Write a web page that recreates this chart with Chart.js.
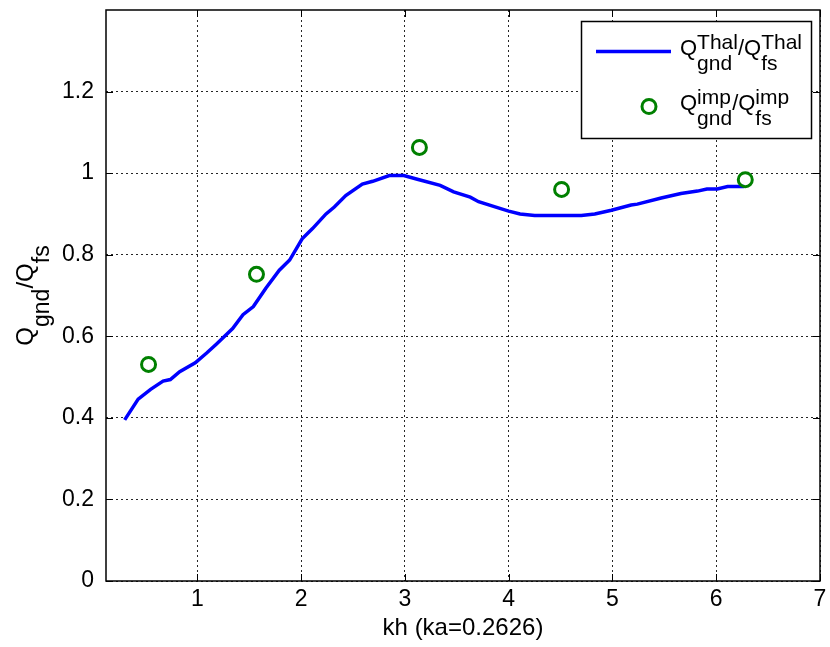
<!DOCTYPE html>
<html>
<head>
<meta charset="utf-8">
<script src="https://cdn.jsdelivr.net/npm/chart.js@4/dist/chart.umd.min.js"></script>
<style>
html, body { margin: 0; padding: 0; background: #fff; }
#wrap { width: 830px; height: 647px; position: relative; }
</style>
</head>
<body>
<div id="wrap"><canvas id="chart"></canvas></div>
<script>
const xTicks = [1, 2, 3, 4, 5, 6, 7];
const yTicks = [0, 0.2, 0.4, 0.6, 0.8, 1, 1.2];

// Q_gnd^Thal / Q_fs^Thal curve
const khThal = [0.30, 0.43, 0.55, 0.67, 0.74, 0.83, 0.98, 1.09, 1.18, 1.34, 1.44, 1.54, 1.66, 1.79, 1.89,
  2.01, 2.11, 2.24, 2.32, 2.43, 2.59, 2.69, 2.85, 2.99, 3.12, 3.34, 3.47, 3.63, 3.71, 3.90, 4.00, 4.11,
  4.25, 4.70, 4.83, 4.99, 5.18, 5.24, 5.47, 5.66, 5.82, 5.91, 6.01, 6.11, 6.27];
const qThal = [0.395, 0.446, 0.470, 0.490, 0.494, 0.513, 0.535, 0.559, 0.580, 0.619, 0.653, 0.673, 0.718, 0.762, 0.787,
  0.839, 0.864, 0.900, 0.917, 0.945, 0.973, 0.980, 0.994, 0.994, 0.985, 0.970, 0.954, 0.941, 0.930, 0.915, 0.907, 0.900,
  0.896, 0.896, 0.900, 0.909, 0.922, 0.924, 0.939, 0.950, 0.956, 0.961, 0.961, 0.967, 0.967];

// Q_gnd^imp / Q_fs^imp points
const khImp = [0.53, 1.57, 3.14, 4.51, 6.28];
const qImp = [0.531, 0.752, 1.063, 0.960, 0.984];

const FONT = '"Liberation Sans", Arial, Helvetica, sans-serif';

// text pieces: {t} is normal, {sup, sub} are stacked scripts
const legendText1 = [{t: 'Q'}, {sup: 'Thal', sub: 'gnd'}, {t: '/'}, {t: 'Q'}, {sup: 'Thal', sub: 'fs'}];
const legendText2 = [{t: 'Q'}, {sup: 'imp', sub: 'gnd'}, {t: '/'}, {t: 'Q'}, {sup: 'imp', sub: 'fs'}];
const yTitle = [{t: 'Q'}, {sub: 'gnd'}, {t: '/'}, {t: 'Q'}, {sub: 'fs'}];
const xTitle = 'kh (ka=0.2626)';

function richWidth(ctx, parts, m, s) {
    let w = 0;
    parts.forEach(p => {
        if (p.t) {
            ctx.font = m + 'px ' + FONT;
            w += ctx.measureText(p.t).width;
        } else {
            ctx.font = s + 'px ' + FONT;
            w += Math.max(ctx.measureText(p.sup || '').width, ctx.measureText(p.sub || '').width);
        }
    });
    return w;
}

function drawRich(ctx, parts, x, y, m, s, up, down) {
    ctx.textAlign = 'left';
    ctx.textBaseline = 'alphabetic';
    ctx.fillStyle = '#000';
    parts.forEach(p => {
        if (p.t) {
            ctx.font = m + 'px ' + FONT;
            ctx.fillText(p.t, x, y);
            x += ctx.measureText(p.t).width;
        } else {
            ctx.font = s + 'px ' + FONT;
            if (p.sup) ctx.fillText(p.sup, x, y - up);
            if (p.sub) ctx.fillText(p.sub, x, y + down);
            x += Math.max(ctx.measureText(p.sup || '').width, ctx.measureText(p.sub || '').width);
        }
    });
}

const boxPlugin = {
    id: 'box',
    afterDatasetsDraw(chart) {
        const ctx = chart.ctx;
        const a = chart.chartArea;
        const xs = chart.scales.x, ys = chart.scales.y;
        ctx.save();
        ctx.strokeStyle = '#000';
        ctx.lineWidth = 1.5;
        ctx.setLineDash([]);
        ctx.strokeRect(a.left, a.top, a.right - a.left, a.bottom - a.top);
        ctx.lineWidth = 1;
        ctx.beginPath();
        xTicks.forEach(v => {
            const px = Math.round(xs.getPixelForValue(v)) + 0.5;
            ctx.moveTo(px, a.bottom); ctx.lineTo(px, a.bottom - 7);
            ctx.moveTo(px, a.top); ctx.lineTo(px, a.top + 7);
        });
        yTicks.forEach(v => {
            const py = Math.round(ys.getPixelForValue(v)) + 0.5;
            ctx.moveTo(a.left, py); ctx.lineTo(a.left + 7, py);
            ctx.moveTo(a.right, py); ctx.lineTo(a.right - 7, py);
        });
        ctx.stroke();
        ctx.restore();
    },
    afterDraw(chart) {
        const ctx = chart.ctx;
        const a = chart.chartArea;
        ctx.save();

        // x title
        ctx.font = '24px ' + FONT;
        ctx.fillStyle = '#000';
        ctx.textAlign = 'center';
        ctx.textBaseline = 'alphabetic';
        ctx.fillText(xTitle, (a.left + a.right) / 2, 635);

        // y title, rotated
        const wy = richWidth(ctx, yTitle, 24, 23);
        ctx.save();
        ctx.translate(33, (a.top + a.bottom) / 2);
        ctx.rotate(-Math.PI / 2);
        drawRich(ctx, yTitle, -wy / 2, 0, 24, 23, 7, 16);
        ctx.restore();

        // legend
        const lx = 581.5, ly = 21.5, lw = 230, lh = 117;
        ctx.fillStyle = '#fff';
        ctx.fillRect(lx, ly, lw, lh);
        ctx.strokeStyle = '#000';
        ctx.lineWidth = 1.5;
        ctx.strokeRect(lx, ly, lw, lh);

        ctx.strokeStyle = '#0000ff';
        ctx.lineWidth = 3.5;
        ctx.beginPath();
        ctx.moveTo(596, 51.5);
        ctx.lineTo(671, 51.5);
        ctx.stroke();

        ctx.strokeStyle = '#008000';
        ctx.lineWidth = 3;
        ctx.beginPath();
        ctx.arc(649, 106.5, 7, 0, Math.PI * 2);
        ctx.stroke();

        drawRich(ctx, legendText1, 680, 55, 22, 21, 6.5, 15);
        drawRich(ctx, legendText2, 680, 110, 22, 21, 6.5, 15);
        ctx.restore();
    }
};

new Chart(document.getElementById('chart'), {
    type: 'scatter',
    data: {
        datasets: [
            {
                label: 'Thal',
                data: khThal.map((k, i) => ({x: k, y: qThal[i]})),
                showLine: true,
                borderColor: '#0000ff',
                borderWidth: 3.5,
                pointRadius: 0,
                tension: 0,
                order: 1
            },
            {
                label: 'imp',
                data: khImp.map((k, i) => ({x: k, y: qImp[i]})),
                showLine: false,
                pointRadius: 7,
                pointBorderWidth: 3,
                pointBorderColor: '#008000',
                pointBackgroundColor: 'rgba(0,0,0,0)',
                order: 0
            }
        ]
    },
    options: {
        responsive: true,
        maintainAspectRatio: false,
        animation: false,
        layout: { padding: { left: 0, top: 8, right: 7, bottom: 0 } },
        plugins: {
            legend: { display: false },
            tooltip: { enabled: false }
        },
        scales: {
            x: {
                type: 'linear',
                min: 0.12,
                max: 7,
                afterBuildTicks: s => { s.ticks = xTicks.map(v => ({value: v})); },
                afterFit: s => { s.height = 66; s.paddingLeft = 0; s.paddingRight = 0; },
                grid: { color: 'rgba(0,0,0,0.85)', lineWidth: 1, drawTicks: false },
                border: { display: false, dash: [2, 3] },
                ticks: { color: '#000', font: { family: FONT, size: 23 }, padding: 5, maxRotation: 0,
                         callback: v => String(v) }
            },
            y: {
                type: 'linear',
                min: 0,
                max: 1.4,
                afterBuildTicks: s => { s.ticks = yTicks.map(v => ({value: v})); },
                afterFit: s => { s.width = 106; s.paddingTop = 0; s.paddingBottom = 0; },
                grid: { color: 'rgba(0,0,0,0.85)', lineWidth: 1, drawTicks: false },
                border: { display: false, dash: [2, 3] },
                ticks: { color: '#000', font: { family: FONT, size: 23 }, padding: 12,
                         callback: v => String(v) }
            }
        }
    },
    plugins: [boxPlugin]
});
</script>
</body>
</html>
